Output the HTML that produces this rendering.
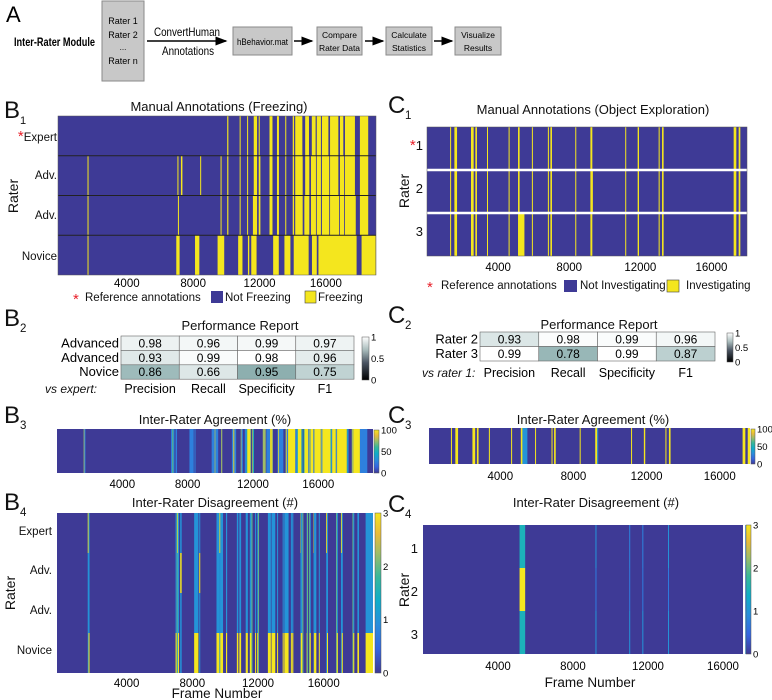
<!DOCTYPE html>
<html><head><meta charset="utf-8"><style>
html,body{margin:0;padding:0;background:#fff;}
svg{display:block;font-family:"Liberation Sans",Arial,sans-serif;}
</style></head><body>
<svg id="fig" width="772" height="700" viewBox="0 0 772 700" xmlns="http://www.w3.org/2000/svg">
<defs>
<linearGradient id="parulaGrad" x1="0" y1="1" x2="0" y2="0">
<stop offset="0" stop-color="#3e3a96"/><stop offset="0.15" stop-color="#3566e0"/><stop offset="0.3" stop-color="#2a8ddc"/><stop offset="0.45" stop-color="#0fadc9"/><stop offset="0.6" stop-color="#37b89b"/><stop offset="0.75" stop-color="#a0bd67"/><stop offset="0.87" stop-color="#e8bb3a"/><stop offset="1" stop-color="#f4e61e"/>
</linearGradient>
<linearGradient id="boneGrad" x1="0" y1="1" x2="0" y2="0">
<stop offset="0" stop-color="#000"/><stop offset="0.4" stop-color="#4a5462"/><stop offset="0.7" stop-color="#a9bcbc"/><stop offset="1" stop-color="#fff"/>
</linearGradient>
<marker id="arr" markerWidth="8" markerHeight="8" refX="7" refY="4" orient="auto"><path d="M0,1 L8,4 L0,7 z" fill="#000"/></marker>
</defs>

<!-- Panel A -->
<g font-size="12">
<text x="6" y="22" font-size="22">A</text>
<text x="14" y="46" font-size="12" font-weight="bold" textLength="81" lengthAdjust="spacingAndGlyphs">Inter-Rater Module</text>
<rect x="102" y="1" width="42" height="80" fill="#c8c8c8" stroke="#8a8a8a"/>
<text x="123" y="24" text-anchor="middle" font-size="9">Rater 1</text>
<text x="123" y="38" text-anchor="middle" font-size="9">Rater 2</text>
<text x="123" y="50" text-anchor="middle" font-size="8">...</text>
<text x="123" y="64" text-anchor="middle" font-size="9">Rater n</text>
<line x1="147" y1="41" x2="226" y2="41" stroke="#000" stroke-width="1.5" marker-end="url(#arr)"/>
<text x="154" y="36" font-size="12" textLength="66" lengthAdjust="spacingAndGlyphs">ConvertHuman</text>
<text x="162" y="55" font-size="12" textLength="52" lengthAdjust="spacingAndGlyphs">Annotations</text>
<rect x="233" y="27" width="59" height="28" fill="#c8c8c8" stroke="#8a8a8a"/>
<text x="237" y="45" font-size="9" textLength="51" lengthAdjust="spacingAndGlyphs">hBehavior.mat</text>
<line x1="294" y1="41" x2="312" y2="41" stroke="#000" stroke-width="1.5" marker-end="url(#arr)"/>
<rect x="317" y="27" width="45" height="28" fill="#c8c8c8" stroke="#8a8a8a"/>
<text x="339.5" y="38" text-anchor="middle" font-size="8.5">Compare</text>
<text x="339.5" y="51" text-anchor="middle" font-size="8.5">Rater Data</text>
<line x1="365" y1="41" x2="383" y2="41" stroke="#000" stroke-width="1.5" marker-end="url(#arr)"/>
<rect x="386" y="27" width="46" height="28" fill="#c8c8c8" stroke="#8a8a8a"/>
<text x="409" y="38" text-anchor="middle" font-size="8.5">Calculate</text>
<text x="409" y="51" text-anchor="middle" font-size="8.5">Statistics</text>
<line x1="434" y1="41" x2="452" y2="41" stroke="#000" stroke-width="1.5" marker-end="url(#arr)"/>
<rect x="455" y="27" width="46" height="28" fill="#c8c8c8" stroke="#8a8a8a"/>
<text x="478" y="38" text-anchor="middle" font-size="8.5">Visualize</text>
<text x="478" y="51" text-anchor="middle" font-size="8.5">Results</text>
</g>

<!-- Static labels -->
<g font-size="11.5" fill="#111">
<text x="4" y="118" font-size="24">B</text><text x="20" y="124" font-size="11">1</text>
<text x="219" y="111" text-anchor="middle" font-size="13">Manual Annotations (Freezing)</text>
<text transform="translate(18,196) rotate(-90)" text-anchor="middle" font-size="14">Rater</text>
<text x="57" y="141" text-anchor="end"><tspan fill="#e8202a" font-size="15">*</tspan>Expert</text>
<text x="57" y="179" text-anchor="end">Adv.</text>
<text x="57" y="219" text-anchor="end">Adv.</text>
<text x="57" y="260" text-anchor="end">Novice</text>
<g>
<text x="73" y="304" fill="#e8202a" font-size="15">*</text>
<text x="85" y="301">Reference annotations</text>
<rect x="211" y="291" width="12" height="12" fill="#3e3a96"/>
<text x="225" y="301">Not Freezing</text>
<rect x="305" y="291" width="11" height="12" fill="#f4e61e" stroke="#444" stroke-width="0.6"/>
<text x="318" y="301">Freezing</text>
</g>

<text x="4" y="326" font-size="24">B</text><text x="20" y="332">2</text>
<text x="240" y="330" text-anchor="middle" font-size="13">Performance Report</text>
<text x="45" y="393" font-style="italic" font-size="12">vs expert:</text>

<text x="4" y="423" font-size="24">B</text><text x="20" y="429">3</text>
<text x="215" y="424" text-anchor="middle" font-size="13">Inter-Rater Agreement (%)</text>

<text x="4" y="510" font-size="24">B</text><text x="20" y="516">4</text>
<text x="215" y="507" text-anchor="middle" font-size="13">Inter-Rater Disagreement (#)</text>
<text transform="translate(15,593) rotate(-90)" text-anchor="middle" font-size="14">Rater</text>
<text x="52" y="535" text-anchor="end">Expert</text>
<text x="52" y="574" text-anchor="end">Adv.</text>
<text x="52" y="614" text-anchor="end">Adv.</text>
<text x="52" y="654" text-anchor="end">Novice</text>
<text x="217" y="698" text-anchor="middle" font-size="13.5">Frame Number</text>

<text x="388" y="113" font-size="24">C</text><text x="405" y="119">1</text>
<text x="593" y="114" text-anchor="middle" font-size="13">Manual Annotations (Object Exploration)</text>
<text transform="translate(409,191) rotate(-90)" text-anchor="middle" font-size="14">Rater</text>
<text x="423" y="150" text-anchor="end" font-size="13"><tspan fill="#e8202a" font-size="15">*</tspan>1</text>
<text x="423" y="193" text-anchor="end" font-size="13">2</text>
<text x="423" y="236" text-anchor="end" font-size="13">3</text>
<g>
<text x="427" y="292" fill="#e8202a" font-size="15">*</text>
<text x="441" y="289">Reference annotations</text>
<rect x="564" y="280" width="13" height="12" fill="#3e3a96"/>
<text x="580" y="289">Not Investigating</text>
<rect x="667" y="280" width="12" height="12" fill="#f4e61e" stroke="#444" stroke-width="0.6"/>
<text x="686" y="289">Investigating</text>
</g>

<text x="388" y="323" font-size="24">C</text><text x="405" y="329">2</text>
<text x="599" y="329" text-anchor="middle" font-size="13">Performance Report</text>
<text x="422" y="377" font-style="italic" font-size="12">vs rater 1:</text>

<text x="388" y="423" font-size="24">C</text><text x="405" y="429">3</text>
<text x="593" y="424" text-anchor="middle" font-size="13">Inter-Rater Agreement (%)</text>

<text x="388" y="512" font-size="24">C</text><text x="405" y="518">4</text>
<text x="596" y="507" text-anchor="middle" font-size="13">Inter-Rater Disagreement (#)</text>
<text transform="translate(409,590) rotate(-90)" text-anchor="middle" font-size="14">Rater</text>
<text x="418" y="553" text-anchor="end" font-size="13">1</text>
<text x="418" y="596" text-anchor="end" font-size="13">2</text>
<text x="418" y="639" text-anchor="end" font-size="13">3</text>
<text x="590" y="687" text-anchor="middle" font-size="13.5">Frame Number</text>
</g>
<g id="dyn"></g>
</svg>
<script>
// ---------- data ----------
const xTicks = [4000, 8000, 12000, 16000];
const raterNamesB = ["Expert", "Adv.", "Adv.", "Novice"];
const expertFreeze = [[10050,10120],[10800,10860],[11250,11300],[11650,11850],[11950,12000],[12600,12780],[13050,13170],[13550,13600],[14000,14080],[14150,14580],[14750,14980],[15150,15380],[15450,15700],[15760,16150],[16250,16750],[16850,17050],[17150,17750],[18050,18550]];
const adv1Freeze = [[1630,1680],[7050,7110],[7260,7350],[8420,8460],[9650,9700],[10050,10120],[10800,10860],[11250,11300],[11650,11850],[11950,12050],[12600,12780],[13050,13170],[13550,13600],[14000,14080],[14150,14600],[14750,15000],[15100,15400],[15450,15700],[15760,16200],[16250,16750],[16850,17100],[17150,17750],[18050,18550]];
const adv2Freeze = [[1630,1680],[7080,7130],[9650,9700],[10050,10120],[10800,10860],[11250,11300],[11600,11850],[11950,12050],[12600,12780],[13050,13170],[13550,13600],[14000,14080],[14150,14600],[14700,15000],[15100,15400],[15450,15700],[15760,16200],[16250,16800],[16850,17100],[17150,17800],[18050,18550]];
const noviceFreeze = [[1630,1690],[6980,7180],[8110,8370],[9470,9870],[10710,10970],[11300,11380],[11500,11820],[12820,13160],[13500,13860],[14060,14960],[15160,15450],[15550,17850],[18150,19000]];

const b2RowLabels = ["Advanced", "Advanced", "Novice"];
const b2ColLabels = ["Precision", "Recall", "Specificity", "F1"];
const b2Row1 = [0.98, 0.96, 0.99, 0.97];
const b2Row2 = [0.93, 0.99, 0.98, 0.96];
const b2Row3 = [0.86, 0.66, 0.95, 0.75];
const b2Tone1 = [0.85, 0.9, 0.92, 0.86];
const b2Tone2 = [0.74, 0.95, 1.0, 0.78];
const b2Tone3 = [0.2, 0.72, 0.06, 0.48];

const rater1Invest = [[1300,1330],[1540,1690],[2475,2625],[2720,2810],[3375,3410],[4590,4610],[5120,5210],[5900,5920],[6800,6830],[6940,7030],[8340,8360],[9190,9300],[11150,11180],[11850,11925],[13030,13050],[13220,13310],[17250,17400],[17530,17625]];
const rater2Invest = [[1300,1330],[1540,1690],[2475,2625],[2720,2810],[3375,3410],[4590,4610],[5120,5210],[5900,5920],[6800,6830],[6940,7030],[8340,8360],[9190,9330],[11150,11180],[11850,11925],[13030,13050],[13220,13310],[17250,17400],[17530,17625]];
const rater3Invest = [[1300,1330],[1540,1690],[2475,2625],[2720,2810],[3375,3410],[4590,4610],[5120,5480],[5900,5920],[6800,6830],[6940,7030],[8340,8360],[9190,9300],[11150,11180],[11850,11925],[13030,13050],[13220,13310],[17250,17400],[17530,17625]];

const c2RowLabels = ["Rater 2", "Rater 3"];
const c2ColLabels = ["Precision", "Recall", "Specificity", "F1"];
const c2Row1 = [0.93, 0.98, 0.99, 0.96];
const c2Row2 = [0.99, 0.78, 0.99, 0.87];
const c2Tone1 = [0.7, 0.97, 0.96, 0.9];
const c2Tone2 = [1.0, 0.15, 1.0, 0.45];

const c4Starts = [5150, 9200, 11000, 11700, 13070, 17190];
const c4Ends = [5450, 9250, 11050, 11750, 13110, 17230];
const c4Row1 = [1.5, 1, 0.8, 0.8, 1, 0.8];
const c4Row2 = [3, 0.7, 0.7, 0.7, 0.7, 0.6];
const c4Row3 = [1.5, 1, 1, 1, 1, 1];

const barTicks = [0, 50, 100];
const disTicks = [0, 1, 2, 3];
const perfTicks = [0, 0.5, 1];

// ---------- helpers ----------
const NS = 'http://www.w3.org/2000/svg';
const root = document.getElementById('dyn');
const BLUE = '#3e3a96', YEL = '#f4e61e';
function el(tag, attrs, parent) {
  const e = document.createElementNS(NS, tag);
  for (const k in attrs) e.setAttribute(k, attrs[k]);
  (parent || root).appendChild(e);
  return e;
}
function scale(d0, d1, r0, r1) { return v => r0 + (v - d0) / (d1 - d0) * (r1 - r0); }
const pStops = [[0,[62,58,150]],[0.15,[53,102,224]],[0.3,[42,141,220]],[0.45,[15,173,201]],[0.6,[55,184,155]],[0.75,[160,189,103]],[0.87,[232,187,58]],[1,[244,230,30]]];
function parula(t) {
  t = Math.max(0, Math.min(1, t));
  for (let i = 1; i < pStops.length; i++) {
    if (t <= pStops[i][0]) {
      const a = pStops[i-1], b = pStops[i], f = (t - a[0]) / (b[0] - a[0]);
      const c = a[1].map((v, k) => Math.round(v + (b[1][k] - v) * f));
      return 'rgb(' + c.join(',') + ')';
    }
  }
  return YEL;
}
function tone(t) {
  const a = [134,170,170], b = [255,255,255];
  const c = a.map((v, k) => Math.round(v + (b[k] - v) * t));
  return 'rgb(' + c.join(',') + ')';
}
function segments(rows, dmin, dmax) {
  const pts = new Set([dmin, dmax]);
  rows.forEach(r => r.forEach(iv => { pts.add(iv[0]); pts.add(iv[1]); }));
  const arr = [...pts].sort((a, b) => a - b);
  const out = [];
  for (let i = 0; i < arr.length - 1; i++) {
    const m = (arr[i] + arr[i+1]) / 2;
    const st = rows.map(r => r.some(iv => m >= iv[0] && m < iv[1]) ? 1 : 0);
    out.push({ s: arr[i], e: arr[i+1], st: st });
  }
  return out;
}
function drawTicks(sx, y, ticks, prefix) {
  ticks.forEach(t => {
    const tx = el('text', { x: sx(t), y: y, 'text-anchor': 'middle', 'font-size': 11.5 });
    
    
    tx.textContent = t;
  });
}
function colorbar(x, y0, y1, w, grad, ticks, tmax, prefix) {
  const cb = el('rect', { x: x, y: y0, width: w, height: y1 - y0, fill: 'url(#' + grad + ')', stroke: '#555', 'stroke-width': 0.5 });
  
  
  ticks.forEach(t => {
    const yy = y1 - t / tmax * (y1 - y0);
    const tx = el('text', { x: x + w + 2, y: yy + 3.5, 'font-size': 9.5 });
    
    
    tx.textContent = t;
  });
}
function drawAnnot(rows, sx, x0, x1, y0, rh, prefix, sepColor, sepW) {
  rows.forEach((r, i) => {
    const y = y0 + i * rh;
    const base = el('rect', { x: x0, y: y, width: x1 - x0, height: rh, fill: BLUE });
    
    
    r.forEach(iv => {
      const a = sx(iv[0]), b = sx(iv[1]);
      const m = el('rect', { x: a, y: y, width: Math.max(b - a, 1), height: rh, fill: YEL });
      
      
    });
  });
  for (let i = 1; i < rows.length; i++) {
    const ln = el('line', { x1: x0, x2: x1, y1: y0 + i * rh, y2: y0 + i * rh, stroke: sepColor, 'stroke-width': sepW });
    
    
  }
  const fr = el('rect', { x: x0, y: y0, width: x1 - x0, height: rh * rows.length, fill: 'none', stroke: '#555', 'stroke-width': 0.5 });
  
  
}
function drawAgreement(rows, sx, dmin, dmax, x0, x1, y0, y1, prefix) {
  const base = el('rect', { x: x0, y: y0, width: x1 - x0, height: y1 - y0, fill: BLUE });
  
  
  segments(rows, dmin, dmax).forEach(sg => {
    const c = sg.st.reduce((a, b) => a + b, 0);
    if (!c) return;
    const a = sx(sg.s), b = sx(sg.e);
    const m = el('rect', { x: a, y: y0, width: Math.max(b - a, 1), height: y1 - y0, fill: parula(c / rows.length) });
    
    
  });
}
function drawTable(rowsVals, tones, rowLabels, colLabels, x0, x1, y0, rh, labY, prefix) {
  const cw = (x1 - x0) / colLabels.length;
  rowsVals.forEach((vals, i) => {
    const lb = el('text', { x: x0 - 2, y: y0 + i * rh + rh - 3, 'text-anchor': 'end', 'font-size': 13 });
    
    
    lb.textContent = rowLabels[i];
    vals.forEach((v, j) => {
      const c = el('rect', { x: x0 + j * cw, y: y0 + i * rh, width: cw, height: rh, fill: tone(tones[i][j]), stroke: '#666', 'stroke-width': 0.6 });
      
      
      const t = el('text', { x: x0 + j * cw + cw / 2, y: y0 + i * rh + rh - 3, 'text-anchor': 'middle', 'font-size': 12 });
      
      
      t.textContent = v.toFixed(2);
    });
  });
  colLabels.forEach((c, j) => {
    const t = el('text', { x: x0 + j * cw + cw / 2, y: labY, 'text-anchor': 'middle', 'font-size': 12.5 });
    
    
    t.textContent = c;
  });
}

// ---------- B1 ----------
const bRows = [expertFreeze, adv1Freeze, adv2Freeze, noviceFreeze];
const sxB1 = scale(-150, 19020, 58, 376);
drawAnnot(bRows, sxB1, 58, 376, 116, 39.75, 'b1', '#222', 1);
drawTicks(sxB1, 287, xTicks, 'b1');

// ---------- B2 ----------
drawTable([b2Row1, b2Row2, b2Row3], [b2Tone1, b2Tone2, b2Tone3], b2RowLabels, b2ColLabels, 121, 354, 336, 14.4, 393, 'b2');
colorbar(362, 337, 380, 7, 'boneGrad', perfTicks, 1, 'b2');

// ---------- B3 ----------
const sxB3 = scale(0, 19350, 57, 373);
drawAgreement(bRows, sxB3, 0, 19000, 57, 373, 429, 473, 'b3');
drawTicks(sxB3, 488, xTicks, 'b3');
colorbar(374, 430, 473, 5, 'parulaGrad', barTicks, 100, 'b3');

// ---------- B4 ----------
const sxB4 = scale(-240, 19000, 57, 373);
(function () {
  const y0 = 513, rh = 40;
  const base = el('rect', { x: 57, y: y0, width: 316, height: rh * 4, fill: BLUE });
  
  
  segments(bRows, 0, 19000).forEach(sg => {
    sg.st.forEach((s, i) => {
      let d = 0;
      sg.st.forEach((o, j) => { if (j !== i && o !== s) d++; });
      if (!d) return;
      const a = sxB4(sg.s), b = sxB4(sg.e);
      const m = el('rect', { x: a, y: y0 + i * rh, width: Math.max(b - a, 1), height: rh, fill: parula(d / 3) });
      
      
    });
  });
})();
drawTicks(sxB4, 687, xTicks, 'b4');
colorbar(375, 513, 673, 6, 'parulaGrad', disTicks, 3, 'b4');

// ---------- C1 ----------
const cRows = [rater1Invest, rater2Invest, rater3Invest];
const sxC1 = scale(0, 18000, 427, 747);
drawAnnot(cRows, sxC1, 427, 747, 127, 43, 'c1', '#fff', 2.5);
drawTicks(sxC1, 271, xTicks, 'c1');

// ---------- C2 ----------
drawTable([c2Row1, c2Row2], [c2Tone1, c2Tone2], c2RowLabels, c2ColLabels, 480, 715, 332, 14.5, 377, 'c2');
colorbar(727, 333, 362, 6, 'boneGrad', perfTicks, 1, 'c2');

// ---------- C3 ----------
const sxC3 = scale(100, 17600, 429, 749);
drawAgreement(cRows, sxC3, 100, 17600, 429, 749, 428, 464, 'c3');
drawTicks(sxC3, 480, xTicks, 'c3');
colorbar(751, 429, 464, 4, 'parulaGrad', barTicks, 100, 'c3');

// ---------- C4 ----------
const sxC4 = scale(0, 17070, 423, 743);
(function () {
  const y0 = 525, rh = 43;
  const base = el('rect', { x: 423, y: y0, width: 320, height: rh * 3, fill: BLUE });
  
  
  const rowsV = [c4Row1, c4Row2, c4Row3];
  c4Starts.forEach((s, k) => {
    rowsV.forEach((rv, i) => {
      const a = sxC4(s), b = sxC4(c4Ends[k]);
      const m = el('rect', { x: a, y: y0 + i * rh, width: Math.max(b - a, 1), height: rh, fill: parula(rv[k] / 3) });
      
      
    });
  });
})();
drawTicks(sxC4, 670, xTicks, 'c4');
colorbar(746, 525, 654, 5, 'parulaGrad', disTicks, 3, 'c4');
</script>
</body></html>
